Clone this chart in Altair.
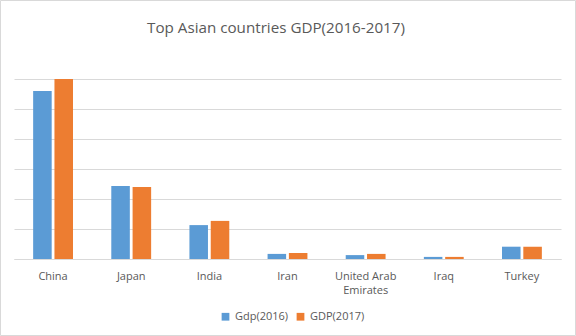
import altair as alt
import pandas as pd

countries = ["China", "Japan", "India", "Iran", "United Arab Emirates", "Iraq", "Turkey"]
gdp_2016 = [11200, 4870, 2260, 340, 260, 140, 820]
gdp_2017 = [12000, 4800, 2540, 400, 340, 140, 810]
series = ["Gdp(2016)", "GDP(2017)"]
colors = ["#5B9BD5", "#ED7D31"]
title_text = "Top Asian countries GDP(2016-2017)"

rows = []
for c, a, b in zip(countries, gdp_2016, gdp_2017):
    rows.append({"country": c, "series": series[0], "gdp": a})
    rows.append({"country": c, "series": series[1], "gdp": b})
df = pd.DataFrame(rows)

W, H = 547, 180
FONT = "Open Sans"
TXT = "#595959"

bars = alt.Chart(df).mark_bar().encode(
    x=alt.X("country:N", sort=countries, title=None,
            scale=alt.Scale(paddingInner=0.49, paddingOuter=0.245),
            axis=alt.Axis(labelAngle=0, labelColor=TXT, labelFont=FONT, labelFontSize=11,
                          labelPadding=11, labelLineHeight=14, ticks=False, domainColor="#D9D9D9",
                          labelExpr="datum.value == 'United Arab Emirates' ? ['United Arab', 'Emirates'] : datum.value")),
    xOffset=alt.XOffset("series:N", sort=series, scale=alt.Scale(paddingInner=0.13)),
    y=alt.Y("gdp:Q", title=None, scale=alt.Scale(domain=[0, 12000], nice=False),
            axis=alt.Axis(values=[0, 2000, 4000, 6000, 8000, 10000, 12000], labels=False,
                          ticks=False, domain=False, gridColor="#D9D9D9", gridWidth=1)),
    color=alt.Color("series:N", sort=series, scale=alt.Scale(domain=series, range=colors),
                    legend=alt.Legend(title=None, orient="none", direction="horizontal",
                                      legendX=206, legendY=232, symbolType="square",
                                      symbolSize=60, labelFont=FONT, labelFontSize=11,
                                      labelColor=TXT, columnPadding=6, symbolStrokeWidth=0)),
)

deco = pd.DataFrame({"t": [title_text]})
border = alt.Chart(deco).mark_rect(fill=None, stroke="#D9D9D9", strokeWidth=1).encode(
    x=alt.value(-13.5), x2=alt.value(561.5), y=alt.value(-78.5), y2=alt.value(256.5)
)
title = alt.Chart(deco).mark_text(font=FONT, fontSize=15.2, color=TXT, align="center",
                                  baseline="middle").encode(
    text="t:N", x=alt.value(262), y=alt.value(-51)
)

chart = alt.layer(bars, border, title).properties(
    width=W, height=H,
    padding={"left": 14, "top": 79, "right": 15, "bottom": 77},
    autosize=alt.AutoSizeParams(type="none"),
).configure_view(stroke=None)

chart.save("out.html", embed_options={"renderer": "svg", "actions": False})
